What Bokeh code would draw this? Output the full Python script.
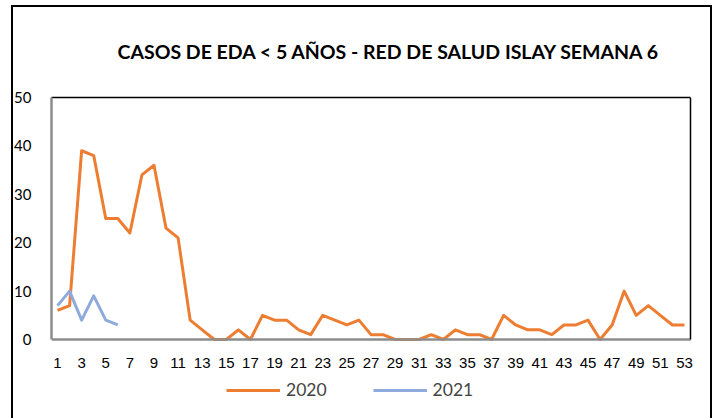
from bokeh.plotting import figure
from bokeh.models import (Range1d, FixedTicker, Legend, LegendItem, LinearAxis)
from bokeh.embed import file_html
from bokeh.resources import INLINE

weeks_2020 = list(range(1, 54))
cases_2020 = [6, 7, 39, 38, 25, 25, 22, 34, 36, 23, 21, 4, 2, 0, 0, 2, 0, 5, 4, 4,
              2, 1, 5, 4, 3, 4, 1, 1, 0, 0, 0, 1, 0, 2, 1, 1, 0, 5, 3, 2,
              2, 1, 3, 3, 4, 0, 3, 10, 5, 7, 5, 3, 3]
weeks_2021 = [1, 2, 3, 4, 5, 6]
cases_2021 = [7, 10, 4, 9, 4, 3]
x_ticks = list(range(1, 54, 2))
y_ticks = [0, 10, 20, 30, 40, 50]
title_text = "CASOS DE EDA < 5 AÑOS - RED DE SALUD ISLAY SEMANA 6"
series_names = ["2020", "2021"]
colors = ["#ED7D31", "#8FAADC"]

x_lo, x_hi = 0.5, 53.5
y_lo, y_hi = 0, 50
# the frame is enlarged beyond the visible plot box so that the tick labels
# and the legend row are not clipped; the box itself is drawn with bounded axes
px_per_week = 639 / (x_hi - x_lo)
px_per_case = 242 / (y_hi - y_lo)
x_max = x_hi + 15 / px_per_week
y_min = y_lo - 71 / px_per_case

p = figure(width=721, height=418, output_backend="svg", toolbar_location=None,
           x_range=Range1d(x_lo, x_max), y_range=Range1d(y_min, y_hi),
           min_border_left=51, min_border_right=16, min_border_top=97, min_border_bottom=8)
# outer chart border drawn as CSS background lines
p.styles = {
    "background-color": "white",
    "background-image": "linear-gradient(black, black), linear-gradient(black, black), linear-gradient(black, black)",
    "background-size": "2px 100%, 700px 2px, 2px 100%",
    "background-position": "11px 5px, 11px 5px, 710px 5px",
    "background-repeat": "no-repeat",
}
p.background_fill_color = "white"
p.background_fill_alpha = 0
p.border_fill_alpha = 0
p.outline_line_color = None
p.xgrid.visible = False
p.ygrid.visible = False

p.title.text = title_text
p.title.align = "left"
p.title.offset = 66
p.title.standoff = 69
p.title.text_font = "Lato"
p.title.text_font_style = "bold"
p.title.text_font_size = "19.5px"
p.title.text_color = "black"

r1 = p.line(weeks_2020, cases_2020, line_color=colors[0], line_width=3, line_join="round")
r2 = p.line(weeks_2021, cases_2021, line_color=colors[1], line_width=3, line_join="round")

p.xaxis.ticker = FixedTicker(ticks=x_ticks)
p.xaxis.fixed_location = y_lo
p.xaxis.bounds = (x_lo, x_hi)
p.yaxis.ticker = FixedTicker(ticks=y_ticks)
p.yaxis.bounds = (y_lo, y_hi)
for ax in (p.xaxis[0], p.yaxis[0]):
    ax.major_tick_line_color = None
    ax.minor_tick_line_color = None
    ax.axis_line_color = "#8C8C8C"
    ax.axis_line_width = 2.5
    ax.major_label_text_color = "#000000"
p.xaxis.major_label_text_font = "Liberation Sans"
p.xaxis.major_label_text_font_size = "15px"
p.xaxis.major_label_standoff = 12
p.yaxis.major_label_text_font = "Lato"
p.yaxis.major_label_text_font_size = "15px"
p.yaxis.major_label_standoff = 14

# black top and right borders of the plot box
top_axis = LinearAxis(ticker=FixedTicker(ticks=[]), bounds=(x_lo, x_hi),
                      axis_line_color="black", axis_line_width=1.5,
                      major_tick_line_color=None, minor_tick_line_color=None)
right_axis = LinearAxis(ticker=FixedTicker(ticks=[]), bounds=(y_lo, y_hi), fixed_location=x_hi,
                        axis_line_color="black", axis_line_width=1.5,
                        major_tick_line_color=None, minor_tick_line_color=None)
p.add_layout(top_axis, "above")
p.add_layout(right_axis, "right")

legend = Legend(items=[LegendItem(label=series_names[0], renderers=[r1]),
                       LegendItem(label=series_names[1], renderers=[r2])],
                orientation="horizontal", location=(175, 10),
                glyph_width=54, glyph_height=20, label_height=20,
                label_standoff=6, spacing=46, padding=0, margin=0,
                border_line_color=None, background_fill_alpha=0,
                label_text_font="Lato", label_text_font_size="17.5px")
p.add_layout(legend, "center")

open("out.html", "w").write(file_html(p, INLINE))
